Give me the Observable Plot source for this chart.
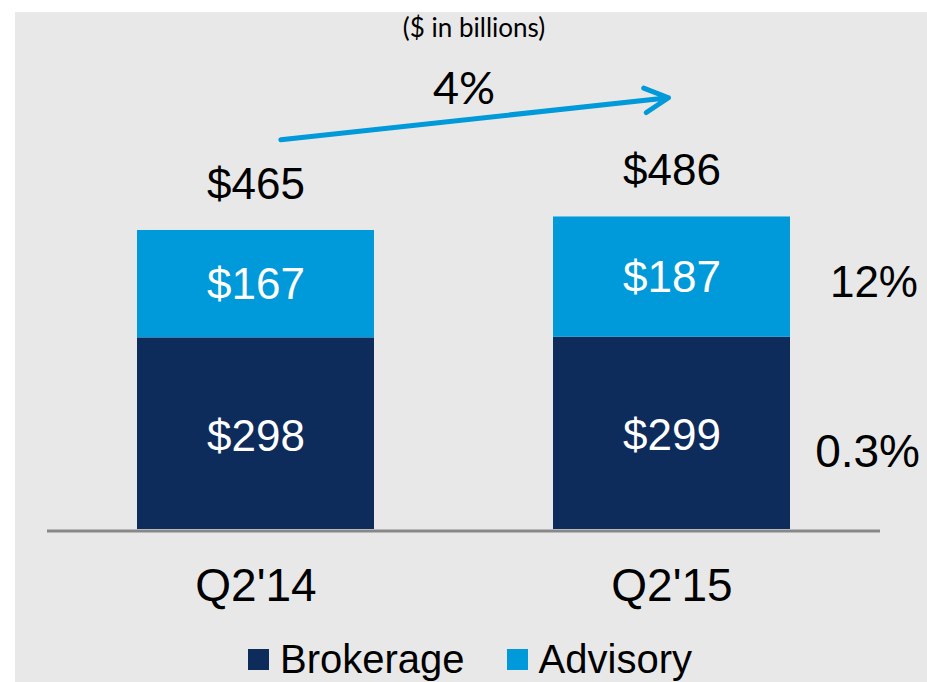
<!DOCTYPE html>
<html>
<head>
<meta charset="utf-8">
<script src="https://cdn.jsdelivr.net/npm/d3@7"></script>
<script src="https://cdn.jsdelivr.net/npm/@observablehq/plot@0.6"></script>
<style>
  html, body { margin: 0; padding: 0; background: #ffffff; }
  #wrap { position: absolute; left: 15px; top: 12px; width: 912px; height: 670px; background: #e8e8e8; color: #000; overflow: hidden; }
  #legend { height: 45px; display: flex; justify-content: center; align-items: center; margin-left: -2px; margin-top: 10px; }
  .lg-swatches { font-family: "Liberation Sans", Arial, sans-serif !important; font-size: 40px !important; color: #000; }
  .lg-swatch { margin-right: 42px !important; }
  .lg-swatch:last-child { margin-right: 0 !important; }
  .lg-swatch > svg { margin-right: 11px !important; }
</style>
</head>
<body>
<div id="wrap"><div id="chart"></div><div id="legend"></div></div>
<script>
// ---- data ----
const quarters = ["Q2'14", "Q2'15"];
const series = ["Brokerage", "Advisory"];
const brokerage = [298, 299];
const advisory = [167, 187];
const totals = [465, 486];
const seriesGrowth = ["0.3%", "12%"];   // Brokerage, Advisory (Q2'15 vs Q2'14)
const totalGrowth = "4%";
const subtitle = "($ in billions)";
const colors = ["#0d2c5c", "#0099da"];
// annotation arrow (value-space y at each quarter)
const arrowY = [602, 672];
const arrowLabelY = [684];

const rows = [];
quarters.forEach((q, i) => {
  rows.push({q, s: series[0], v: brokerage[i]});
  rows.push({q, s: series[1], v: advisory[i]});
});
const totalRows = quarters.map((q, i) => ({q, v: totals[i], label: "$" + totals[i]}));
const lastQ = quarters[quarters.length - 1];
const growthRows = series.map((s, i) => ({q: lastQ, s, v: (s === "Brokerage" ? brokerage : advisory)[1], g: seriesGrowth[i]}));

const sans = "'Liberation Sans', Arial, sans-serif";
const calibriLike = "Lato, 'Open Sans', sans-serif";

const plot = Plot.plot({
  width: 912,
  height: 625,
  marginTop: 0,
  marginBottom: 108,
  marginLeft: 32,
  marginRight: 47,
  style: {background: "transparent", fontFamily: sans, color: "#000", overflow: "visible"},
  x: {domain: quarters, paddingInner: 0.43, paddingOuter: 0.215, label: null},
  y: {domain: [0, 804], axis: null},
  color: {domain: series, range: colors},
  marks: [
    Plot.barY(rows, {x: "q", y: "v", fill: "s", order: series}),
    Plot.ruleY([0], {stroke: "#888888", strokeWidth: 3, dy: 1.5}),
    Plot.text(rows.filter(d => d.s === "Advisory"), {x: "q", y: d => d.v / 2 + brokerage[quarters.indexOf(d.q)], text: d => "$" + d.v, fill: "white", fontSize: 44, lineAnchor: "middle", dy: 1}),
    Plot.text(rows.filter(d => d.s === "Brokerage"), {x: "q", y: d => d.v / 2, text: d => "$" + d.v, fill: "white", fontSize: 44, lineAnchor: "middle", dy: 3}),
    Plot.text(totalRows, {x: "q", y: "v", text: "label", fontSize: 44, lineAnchor: "middle", dy: -46, fill: "#000"}),
    Plot.text(growthRows.filter(d => d.s === "Advisory"), {x: "q", y: d => brokerage[1] + d.v / 2, text: "g", fontSize: 44, textAnchor: "end", lineAnchor: "middle", dx: 246, dy: 6, fill: "#000"}),
    Plot.text(growthRows.filter(d => d.s === "Brokerage"), {x: "q", y: d => d.v / 2, text: "g", fontSize: 46, textAnchor: "end", lineAnchor: "middle", dx: 248, dy: 19, fill: "#000"}),
    Plot.arrow([{x1: quarters[0], x2: quarters[1], y1: arrowY[0], y2: arrowY[1]}], {x1: "x1", x2: "x2", y1: "y1", y2: "y2", stroke: "#0099da", strokeWidth: 5, headLength: 8, headAngle: 55, insetStart: 25, insetEnd: 3.5}),
    Plot.text([totalGrowth], {x: () => quarters[0], y: () => arrowLabelY[0], text: d => d, fontSize: 45, fontFamily: calibriLike, dx: 208, lineAnchor: "middle", fill: "#000"}),
    Plot.text([subtitle], {frameAnchor: "top", text: d => d, fontSize: 26, fontFamily: calibriLike, dx: 10, dy: 16, lineAnchor: "middle", fill: "#000"}),
    Plot.axisX({tickSize: 0, tickPadding: 39, fontSize: 46, label: null, fill: "#000"})
  ]
});
document.getElementById("chart").appendChild(plot);

const legend = Plot.legend({color: {domain: series, range: colors}, legend: "swatches", swatchSize: 21, className: "lg"});
document.getElementById("legend").appendChild(legend);
</script>
</body>
</html>
